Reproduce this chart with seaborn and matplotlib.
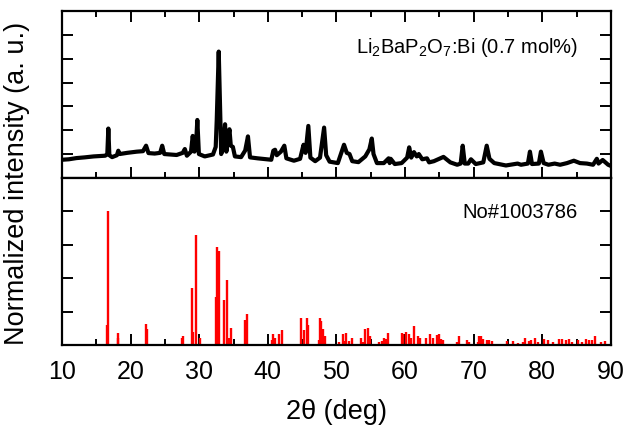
import numpy as np
import matplotlib
matplotlib.use("Agg")
import matplotlib.pyplot as plt
from matplotlib.ticker import MultipleLocator
import pandas as pd
import seaborn as sns

two_theta = [10.0, 11.0, 12.1, 13.3, 14.6, 16.3, 16.6, 16.75, 16.9, 17.3, 18.0, 18.2, 18.4,
             19.5, 20.9, 21.8, 22.25, 22.6, 23.5, 24.3, 24.6, 24.9, 26.7, 27.6, 27.9, 28.2,
             28.8, 29.05, 29.3, 29.5, 29.72, 29.95, 30.8, 32.0, 32.4, 32.55, 32.84, 33.0,
             33.2, 33.5, 33.76, 33.95, 34.4, 34.6, 34.9, 35.2, 36.1, 36.7, 37.1, 37.4, 38.5,
             40.5, 40.8, 41.05, 41.3, 41.9, 42.4, 42.7, 43.8, 44.7, 45.2, 45.5, 45.9, 46.2,
             46.9, 47.6, 48.2, 48.5, 49.0, 50.2, 51.1, 51.5, 51.9, 52.3, 53.2, 54.2, 54.8,
             55.15, 55.4, 55.9, 56.9, 57.6, 57.75, 57.9, 58.5, 59.5, 60.3, 60.6, 60.9, 61.3,
             61.7, 62.0, 62.5, 63.2, 63.5, 64.2, 65.0, 65.6, 66.6, 67.6, 68.1, 68.4, 68.7,
             69.2, 69.6, 70.3, 71.4, 71.9, 72.3, 73.0, 74.7, 76.4, 76.9, 77.9, 78.2, 78.5,
             79.5, 79.8, 80.2, 80.9, 81.8, 82.6, 83.6, 84.6, 85.5, 86.5, 87.4, 87.95, 88.2,
             88.8, 89.6, 90.0]
intensity = [0.76, 0.78, 0.83, 0.86, 0.90, 0.93, 1.0, 2.07, 0.95, 0.87, 0.95, 1.14, 1.0,
             1.05, 1.10, 1.12, 1.35, 1.04, 1.02, 1.05, 1.35, 1.0, 0.96, 1.05, 1.21, 0.93,
             1.1, 1.76, 1.1, 1.2, 2.43, 1.0, 0.9, 0.98, 1.3, 2.42, 5.30, 3.3,
             1.0, 1.3, 2.25, 1.1, 2.04, 1.35, 1.3, 0.9, 0.87, 1.15, 1.74, 0.86, 0.82,
             0.76, 1.14, 1.18, 0.95, 1.1, 1.35, 0.82, 0.72, 0.8, 1.39, 1.05, 2.18, 0.85,
             0.7, 0.85, 2.11, 0.95, 0.68, 0.62, 1.39, 1.05, 1.0, 0.7, 0.66, 0.9, 1.2,
             1.65, 1.0, 0.62, 0.62, 0.82, 0.62, 0.80, 0.58, 0.62, 0.85, 1.28, 0.85, 1.08,
             0.9, 1.0, 0.78, 0.82, 0.65, 0.7, 0.8, 0.88, 0.65, 0.55, 0.6, 1.35, 0.6,
             0.6, 0.78, 0.58, 0.65, 1.35, 0.8, 0.62, 0.52, 0.6, 0.55, 0.6, 1.1, 0.58,
             0.6, 1.1, 0.62, 0.55, 0.6, 0.55, 0.62, 0.72, 0.62, 0.6, 0.55, 0.8, 0.6,
             0.75, 0.55, 0.5]

# reference card No#1003786: line positions and relative intensities
ref_pos = [14.6, 16.5, 16.65, 18.1, 18.2, 22.2, 22.35, 27.5, 27.6, 28.9, 29.1, 29.5, 30.1,
           32.4, 32.6, 32.85, 33.6, 34.0, 34.3, 34.6, 36.7, 36.9, 40.6, 40.7, 41.05, 41.6,
           42.0, 44.8, 45.2, 45.7, 45.9, 47.4, 47.6, 47.8, 48.1, 48.4, 50.4, 50.9, 51.1,
           51.35, 51.8, 52.3, 53.6, 53.8, 54.1, 54.6, 54.9, 56.2, 56.7, 57.0, 57.2, 57.5,
           59.5, 59.7, 60.2, 60.5, 60.8, 61.3, 61.9, 62.2, 63.0, 63.7, 64.1, 64.7, 64.9,
           65.2, 65.5, 67.6, 67.8, 69.0, 69.3, 70.6, 70.8, 71.0, 71.3, 71.9, 72.2, 72.7,
           74.9, 75.7, 76.5, 77.2, 77.5, 78.0, 78.4, 79.0, 79.4, 80.3, 80.9, 81.6, 82.5,
           82.9, 83.5, 83.9, 84.4, 85.2, 85.8, 86.4, 86.8, 87.2, 87.7, 88.6, 89.2]
ref_int = [1.0, 15, 100, 5, 9, 16, 12, 5, 7, 42.5, 10, 82, 5,
           36, 73, 70, 34, 49, 5, 13, 19, 23, 4, 8, 5, 8,
           11, 20, 11, 20, 15, 4, 20, 18, 12, 7, 2, 8, 3,
           9, 3, 5, 5, 2, 12, 13, 7, 2, 3, 5, 4.5, 9,
           9, 8, 10, 8, 5, 14, 6.5, 5, 5, 8, 5, 7.5, 8,
           4.5, 4, 2, 7, 4, 2.5, 2, 7, 6.5, 4.5, 4, 4, 3,
           3, 3, 1.5, 2.5, 5, 3, 3.5, 5, 2.5, 4.5, 3.5, 2, 4.5,
           4.5, 3.5, 4.5, 2, 3.5, 2.5, 4.5, 4, 3.5, 7, 2.5, 3]

meas = pd.DataFrame({"two_theta": two_theta, "intensity": intensity})
ref = pd.DataFrame({"two_theta": ref_pos, "intensity": ref_int})

sns.set_style("ticks")
plt.rcParams["font.family"] = ["Liberation Sans", "DejaVu Sans"]
plt.rcParams["mathtext.fontset"] = "custom"
plt.rcParams["mathtext.rm"] = "Liberation Sans"
plt.rcParams["mathtext.default"] = "regular"
plt.rcParams["axes.edgecolor"] = "black"
plt.rcParams["xtick.color"] = "black"
plt.rcParams["ytick.color"] = "black"
plt.rcParams["text.color"] = "black"

fig = plt.figure(figsize=(6.24, 4.31), dpi=100)
ax1 = fig.add_axes([0.0994, 0.585, 0.8796, 0.387])
ax2 = fig.add_axes([0.0994, 0.197, 0.8796, 0.388], sharex=ax1)

sns.lineplot(data=meas, x="two_theta", y="intensity", ax=ax1, color="black", lw=3.0)
ax2.vlines(ref["two_theta"], 0, ref["intensity"], color="red", lw=1.7)

ax1.set_xlim(10, 90)
ax1.set_ylim(0, 7)
ax2.set_ylim(0, 125)

for ax in (ax1, ax2):
    ax.xaxis.set_major_locator(MultipleLocator(10))
    ax.xaxis.set_minor_locator(MultipleLocator(5))
    ax.set_xlabel("")
    ax.set_ylabel("")
    for s in ax.spines.values():
        s.set_linewidth(1.6)
        s.set_color("black")
    ax.tick_params(axis="y", which="major", direction="in", length=8, width=1.4,
                   left=True, right=True)

ax1.set_yticks([1, 2, 3, 4, 5, 6])
ax1.set_yticklabels([])
ax2.set_yticks([25, 50, 75, 100])
ax2.set_yticklabels([])

ax1.tick_params(axis="x", which="both", direction="in", top=True, bottom=True,
                labelbottom=False, width=1.4)
ax1.tick_params(axis="x", which="major", length=8)
ax1.tick_params(axis="x", which="minor", length=4)
ax2.tick_params(axis="x", which="both", direction="in", top=False, bottom=True,
                width=1.4, labelsize=18, pad=10)
ax2.tick_params(axis="x", which="major", length=8)
ax2.tick_params(axis="x", which="minor", length=4)

ax1.text(0.94, 0.79, r"Li$_2$BaP$_2$O$_7$:Bi (0.7 mol%)", transform=ax1.transAxes,
         ha="right", va="center", fontsize=14.5)
ax2.text(0.94, 0.80, "No#1003786", transform=ax2.transAxes,
         ha="right", va="center", fontsize=14.5)

fig.text(0.539, 0.044, "2\u03b8 (deg)", ha="center", va="center", fontsize=19.5)
fig.text(0.027, 0.575, "Normalized intensity (a. u.)", rotation=90,
         ha="center", va="center", fontsize=19.5)

fig.savefig("out.png", dpi=100)
